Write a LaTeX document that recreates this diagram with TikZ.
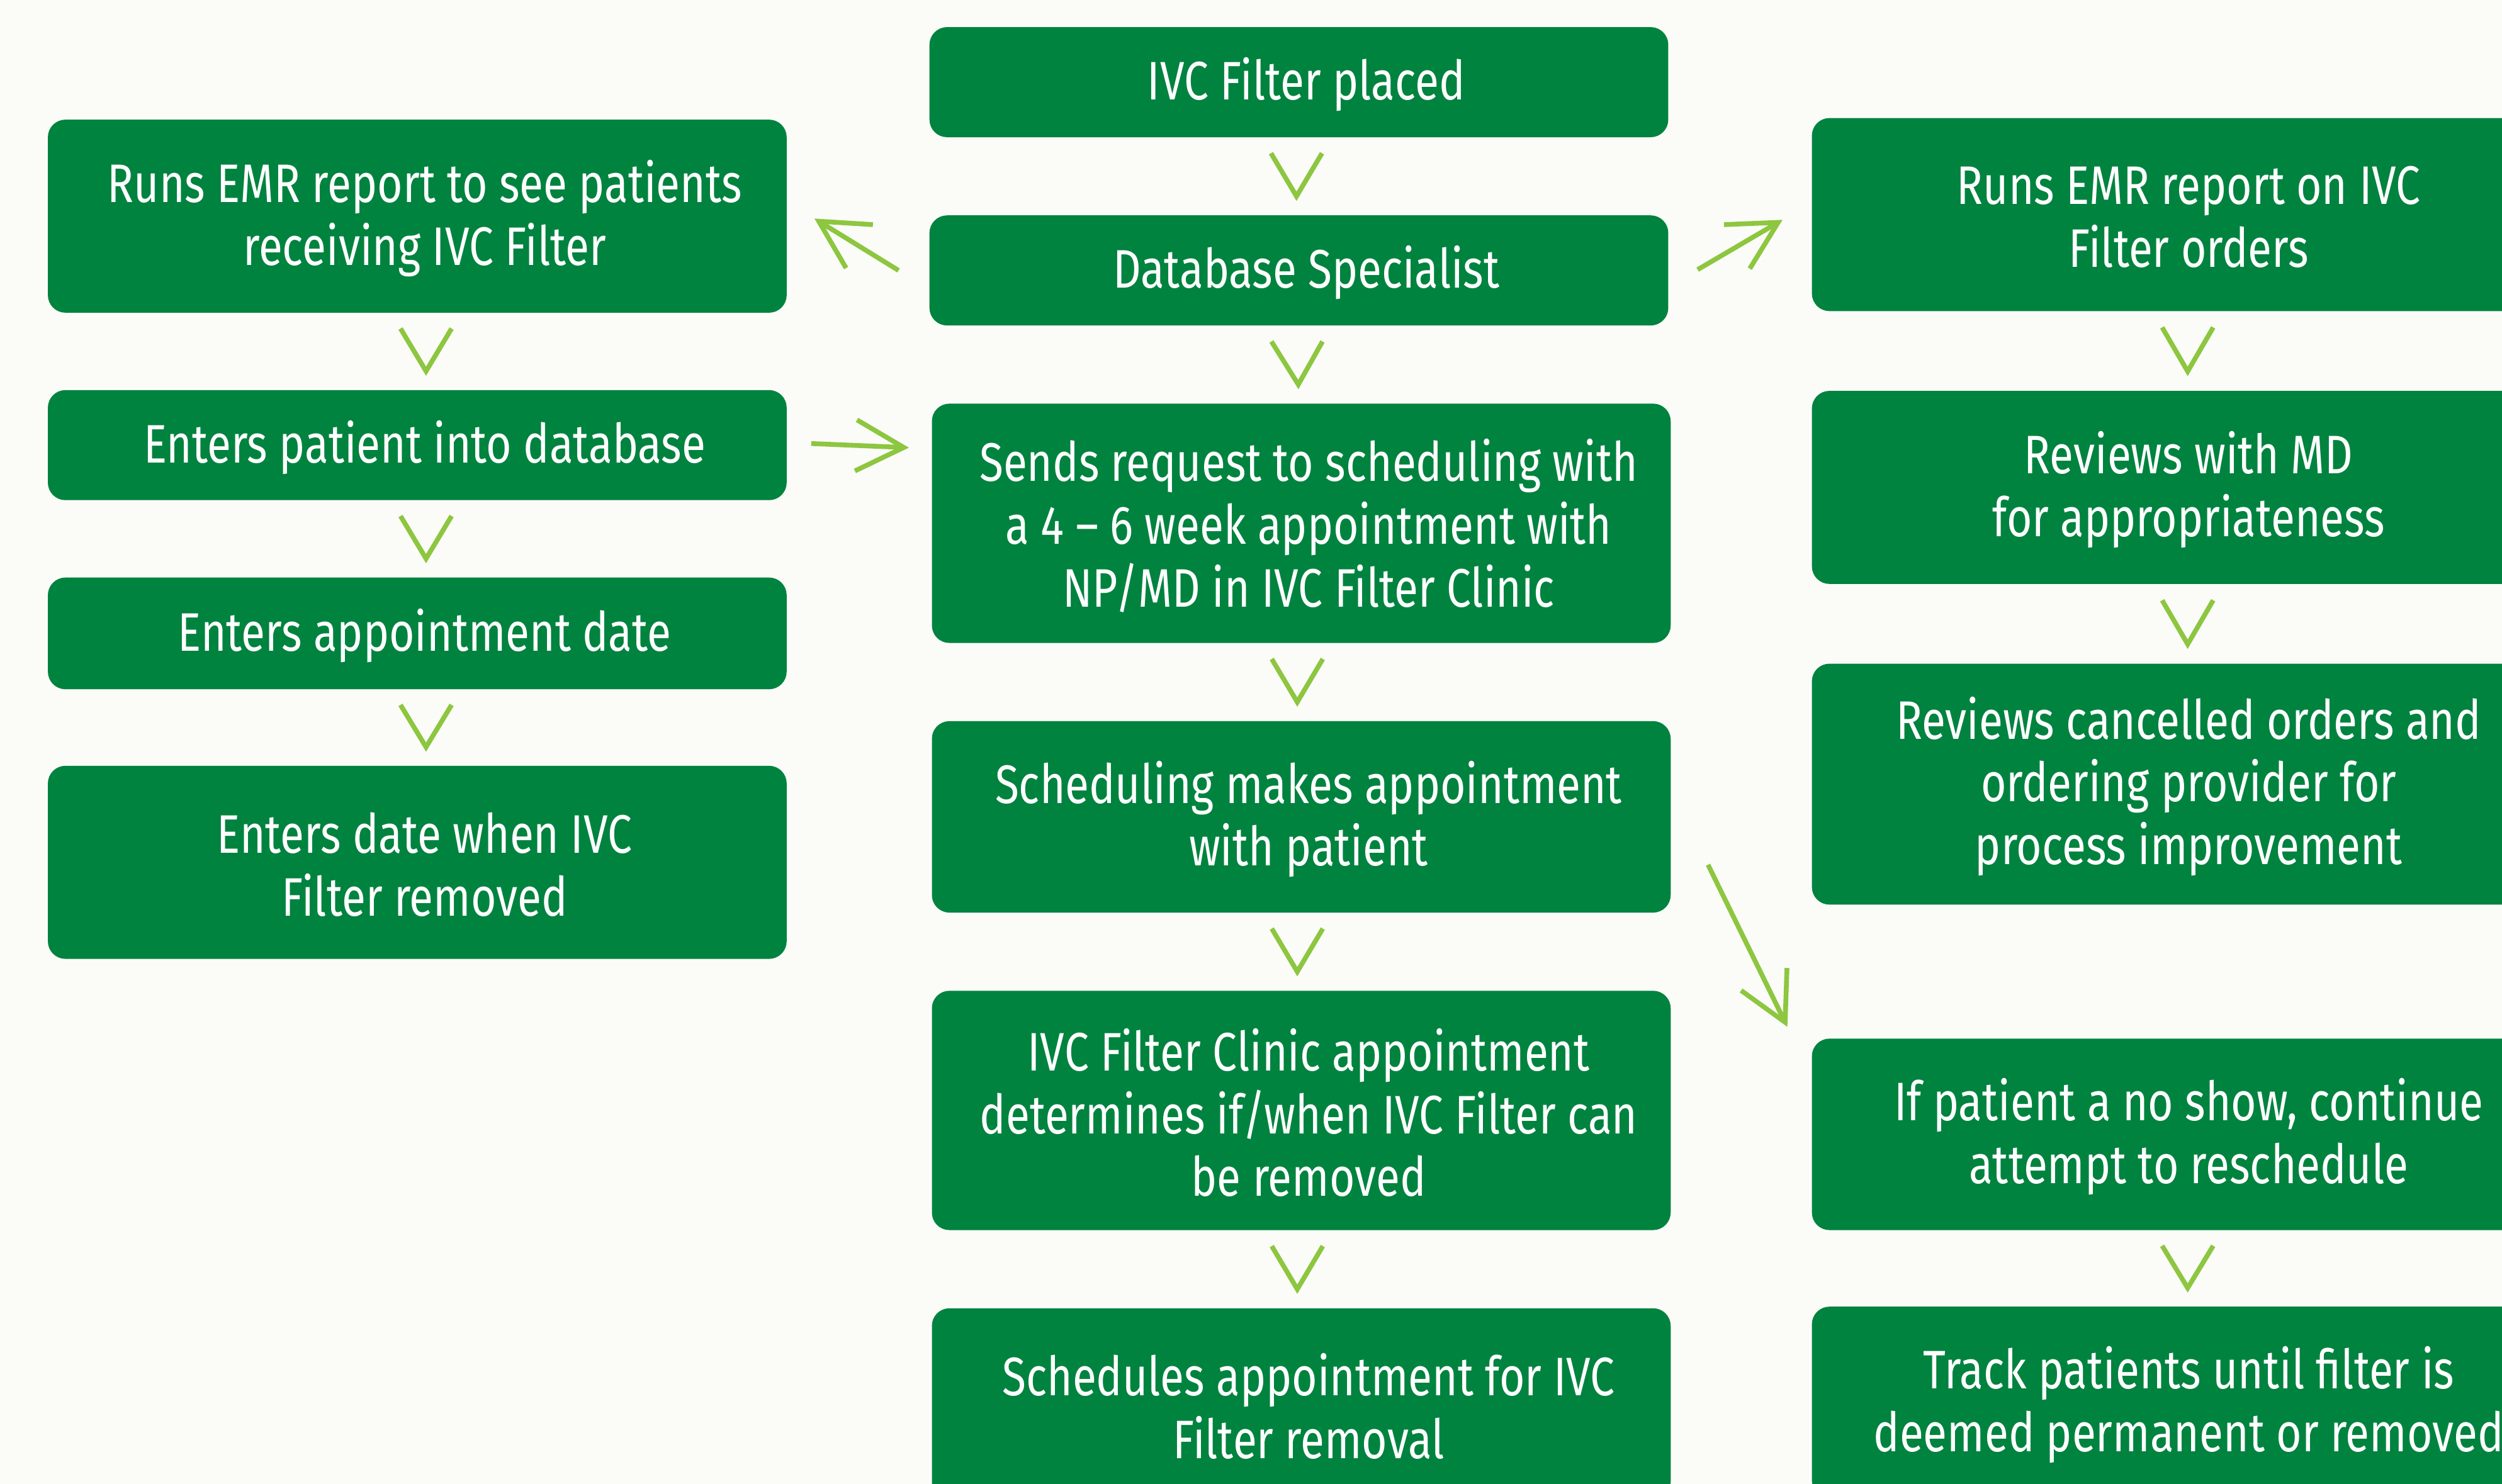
\documentclass[tikz,border=0pt]{standalone}
\usepackage{fontspec}
\setmainfont{Fira Sans}[FakeStretch=0.805]
\usetikzlibrary{arrows.meta,calc}

\definecolor{boxgreen}{RGB}{0,131,63}
\definecolor{arrowgreen}{RGB}{141,198,63}
\definecolor{paper}{RGB}{251,251,248}

\tikzset{
	stepbox/.style={rectangle, rounded corners=5.5pt, fill=boxgreen,
		inner sep=0pt, minimum width=231.5pt},
	boxtext/.style={text=white, align=center, inner sep=0pt,
		font=\fontsize{17}{19.7}\selectfont, xshift=2.3pt, yshift=-0.7pt},
	chevron/.style={draw=arrowgreen, line width=1.5pt, line join=miter},
	diagarrow/.style={draw=arrowgreen, line width=1.5pt,
		-{Straight Barb[length=15pt,width=16pt]}}
}
% chevron between two boxes, optional sideways shift
\newcommand{\chev}[3][0]{%
	\draw[chevron] ($(#2.south)!0.2!(#3.north)+(#1-16,0)$) -- ($(#2.south)!0.76!(#3.north)+(#1,0)$) -- ($(#2.south)!0.2!(#3.north)+(#1+16,0)$);}

\begin{document}
\begin{tikzpicture}[x=0.5pt,y=0.5pt,yscale=-1,xscale=1]
	%Background
	\fill[paper] (0,0) rectangle (1568,930);
	\useasboundingbox (0,0) rectangle (1568,930);

	%Centre column
	\node[stepbox, minimum height=34.5pt, label={[boxtext]center:{IVC Filter placed}}] (placed) at (814,51.5) {};
	\node[stepbox, minimum height=34.5pt, label={[boxtext]center:{Database Specialist}}] (dbspec) at (814,169.5) {};
	\node[stepbox, minimum height=75pt, label={[boxtext]center:{Sends request to scheduling with\\a 4 -- 6 week appointment with\\NP/MD in IVC Filter Clinic}}] (sendreq) at (815.5,328) {};
	\node[stepbox, minimum height=60pt, label={[boxtext]center:{Scheduling makes appointment\\with patient}}] (schedmake) at (815.5,512) {};
	\node[stepbox, minimum height=75pt, label={[boxtext]center:{IVC Filter Clinic appointment\\determines if/when IVC Filter can\\be removed}}] (clinic) at (815.5,696) {};
	\node[stepbox, minimum height=60pt, label={[boxtext]center:{Schedules appointment for IVC\\Filter removal}}] (schedrem) at (815.5,880) {};

	%Left column
	\node[stepbox, minimum height=60.5pt, label={[boxtext]center:{Runs EMR report to see patients\\receiving IVC Filter}}] (emrleft) at (261.5,135.5) {};
	\node[stepbox, minimum height=34.5pt, label={[boxtext]center:{Enters patient into database}}] (enterpat) at (261.5,279) {};
	\node[stepbox, minimum height=35pt, label={[boxtext]center:{Enters appointment date}}] (enterappt) at (261.5,397) {};
	\node[stepbox, minimum height=60.5pt, label={[boxtext]center:{Enters date when IVC\\Filter removed}}] (enterdate) at (261.5,540.5) {};

	%Right column
	\node[stepbox, minimum height=60.5pt, label={[boxtext]center:{Runs EMR report on IVC\\Filter orders}}] (emrright) at (1367,134.5) {};
	\node[stepbox, minimum height=60.5pt, label={[boxtext]center:{Reviews with MD\\for appropriateness}}] (reviewmd) at (1367,305.5) {};
	\node[stepbox, minimum height=75.5pt, label={[boxtext]center:{Reviews cancelled orders and\\ordering provider for\\process improvement}}] (reviewcanc) at (1367,491.5) {};
	\node[stepbox, minimum height=60pt, label={[boxtext]center:{If patient a no show, continue\\attempt to reschedule}}] (noshow) at (1367,711) {};
	\node[stepbox, minimum height=60pt, label={[boxtext]center:{Track patients until filter is\\deemed permanent or removed}}] (track) at (1367,879) {};

	%Chevrons
	\chev[-1.5]{placed}{dbspec}
	\chev[-1.5]{dbspec}{sendreq}
	\chev[-2.5]{sendreq}{schedmake}
	\chev[-2.5]{schedmake}{clinic}
	\chev[-2.5]{clinic}{schedrem}
	\chev[5.5]{emrleft}{enterpat}
	\chev[5.5]{enterpat}{enterappt}
	\chev[5.5]{enterappt}{enterdate}
	\chev[4]{emrright}{reviewmd}
	\chev[4]{reviewmd}{reviewcanc}
	\chev[4]{noshow}{track}

	%Arrows
	\draw[diagarrow] ($(dbspec.west)+(-19,0)$) -- ($(emrleft.east)+(17,1.5)$);
	\draw[diagarrow] ($(dbspec.east)+(18,-0.5)$) -- ($(emrright.west)+(-18,3.3)$);
	\draw[diagarrow] ($(enterpat.east)+(15,-1)$) -- ($(sendreq.north west)+(-14,28)$);
	\draw[diagarrow] ($(schedmake.east)+(23,30)$) -- ($(noshow.north west)+(-15,-7)$);

\end{tikzpicture}
\end{document}
